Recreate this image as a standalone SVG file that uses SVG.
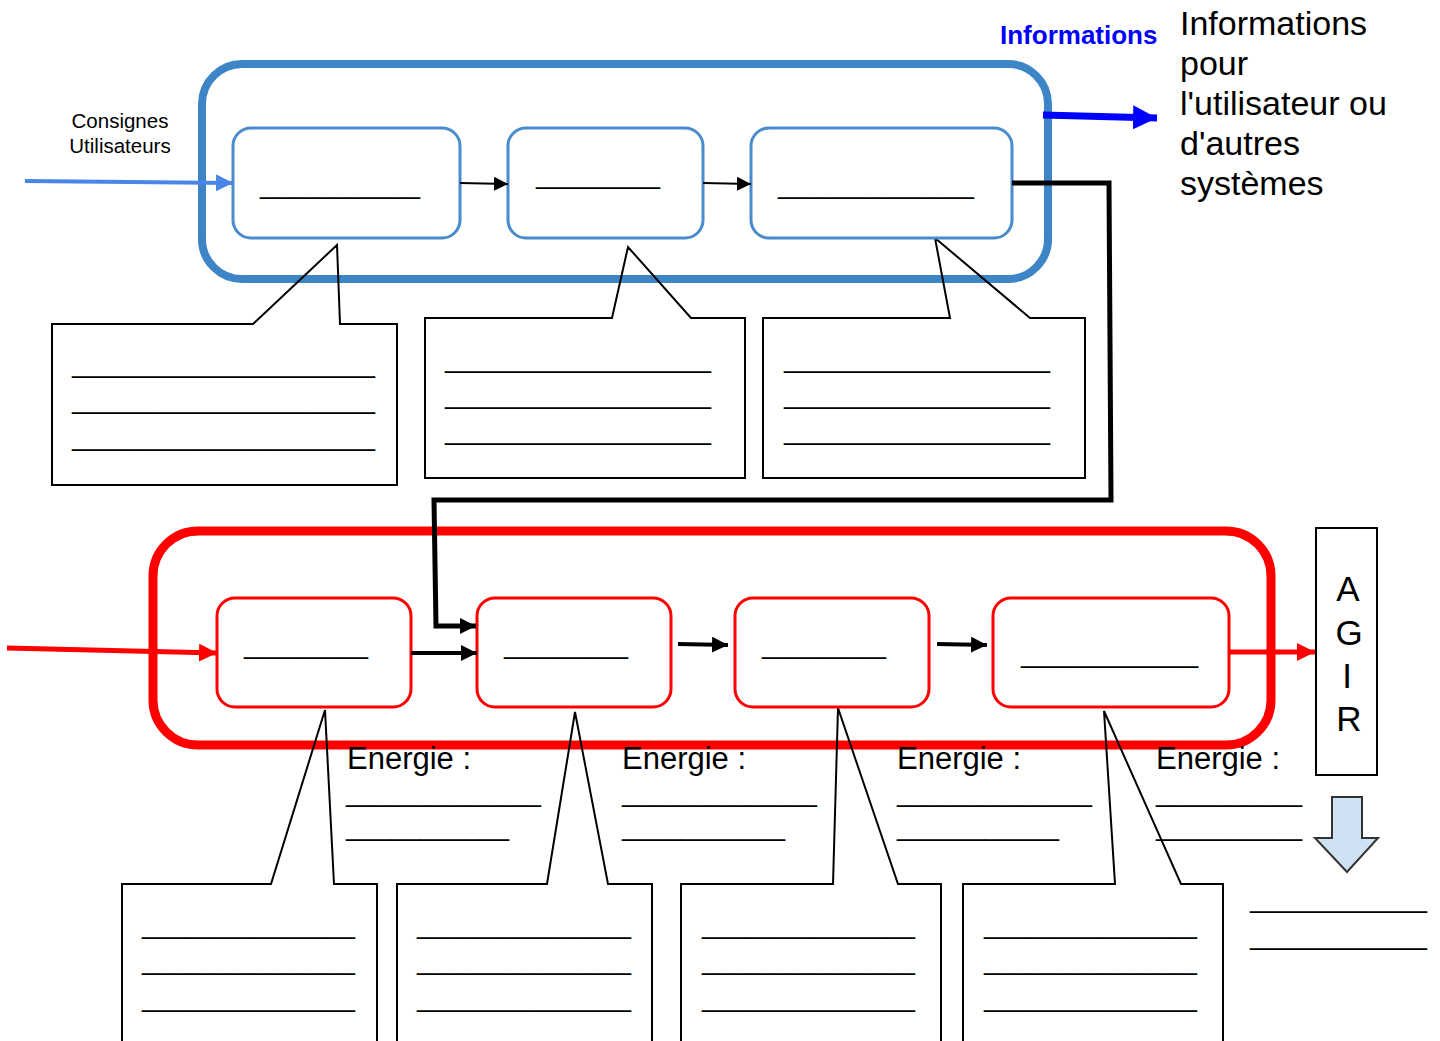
<svg xmlns="http://www.w3.org/2000/svg" width="1440" height="1041" viewBox="0 0 1440 1041">
  <defs>
    <style>
      .txt { font-family: "Liberation Sans", Arial, sans-serif; fill: #000; }
      .blank { font-family: "Liberation Sans", Arial, sans-serif; font-size: 25px; fill: #000; }
      .outer-blue { fill: none; stroke: #3d85c6; stroke-width: 8; }
      .inner-blue { fill: #fff; stroke: #4a8bcb; stroke-width: 3; }
      .outer-red { fill: none; stroke: #ff0000; stroke-width: 9; }
      .inner-red { fill: #fff; stroke: #ff0000; stroke-width: 3; }
      .callout { fill: none; stroke: #000; stroke-width: 2; stroke-linejoin: miter; }
      .energie { font-family: "Liberation Sans", Arial, sans-serif; font-size: 31px; fill: #000; }
    </style>
    <marker id="head-black-s" viewBox="0 0 10 10" refX="10" refY="5" markerUnits="userSpaceOnUse" markerWidth="14" markerHeight="15" orient="auto">
      <path d="M0,0 L10,5 L0,10 Z" fill="#000"/>
    </marker>
    <marker id="head-black-m" viewBox="0 0 10 10" refX="10" refY="5" markerUnits="userSpaceOnUse" markerWidth="16" markerHeight="16" orient="auto">
      <path d="M0,0 L10,5 L0,10 Z" fill="#000"/>
    </marker>
    <marker id="head-lblue" viewBox="0 0 10 10" refX="10" refY="5" markerUnits="userSpaceOnUse" markerWidth="17" markerHeight="18" orient="auto">
      <path d="M0,0 L10,5 L0,10 Z" fill="#4a86e8"/>
    </marker>
    <marker id="head-blue" viewBox="0 0 10 10" refX="10" refY="5" markerUnits="userSpaceOnUse" markerWidth="24" markerHeight="24" orient="auto">
      <path d="M0,0 L10,5 L0,10 Z" fill="#0000ff"/>
    </marker>
    <marker id="head-red" viewBox="0 0 10 10" refX="10" refY="5" markerUnits="userSpaceOnUse" markerWidth="18" markerHeight="18" orient="auto">
      <path d="M0,0 L10,5 L0,10 Z" fill="#ff0000"/>
    </marker>
  </defs>

  <rect width="1440" height="1041" fill="#fff"/>

  <!-- information chain (top) -->
  <g id="chaine-information">
    <rect class="outer-blue" x="202" y="64" width="846" height="215" rx="40"/>
  </g>

  <!-- energy chain (bottom) -->
  <g id="chaine-energie">
    <rect class="outer-red" x="153" y="531" width="1118" height="214" rx="45"/>
  </g>

  <!-- top callouts -->
  <g id="bulle-1">
    <path class="callout" d="M52,324 L253,324 L337,245 L340,324 L397,324 L397,485 L52,485 Z"/>
    <text class="blank" x="72" y="373" textLength="303" lengthAdjust="spacingAndGlyphs">______________________</text>
    <text class="blank" x="72" y="409" textLength="303" lengthAdjust="spacingAndGlyphs">______________________</text>
    <text class="blank" x="72" y="446" textLength="303" lengthAdjust="spacingAndGlyphs">______________________</text>
  </g>
  <g id="bulle-2">
    <path class="callout" d="M425,318 L612,318 L628,247 L691,318 L745,318 L745,478 L425,478 Z"/>
    <text class="blank" x="445" y="368" textLength="266" lengthAdjust="spacingAndGlyphs">___________________</text>
    <text class="blank" x="445" y="404" textLength="266" lengthAdjust="spacingAndGlyphs">___________________</text>
    <text class="blank" x="445" y="440" textLength="266" lengthAdjust="spacingAndGlyphs">___________________</text>
  </g>
  <g id="bulle-3">
    <path class="callout" d="M763,318 L950,318 L935,238 L1030,318 L1085,318 L1085,478 L763,478 Z"/>
    <text class="blank" x="784" y="368" textLength="266" lengthAdjust="spacingAndGlyphs">___________________</text>
    <text class="blank" x="784" y="404" textLength="266" lengthAdjust="spacingAndGlyphs">___________________</text>
    <text class="blank" x="784" y="440" textLength="266" lengthAdjust="spacingAndGlyphs">___________________</text>
  </g>

  <!-- top function blocks -->
  <g id="bloc-acquerir">
    <rect class="inner-blue" x="233" y="128" width="227" height="110" rx="18"/>
    <text class="blank" x="260" y="194" textLength="160" lengthAdjust="spacingAndGlyphs">___________</text>
  </g>
  <g id="bloc-traiter">
    <rect class="inner-blue" x="508" y="128" width="195" height="110" rx="18"/>
    <text class="blank" x="536" y="184" textLength="124" lengthAdjust="spacingAndGlyphs">_________</text>
  </g>
  <g id="bloc-communiquer">
    <rect class="inner-blue" x="751" y="128" width="261" height="110" rx="18"/>
    <text class="blank" x="778" y="194" textLength="196" lengthAdjust="spacingAndGlyphs">______________</text>
  </g>

  <!-- bottom callouts -->
  <g id="bulle-a">
    <path class="callout" d="M122,1060 L122,884 L271,884 L325,710 L334,884 L377,884 L377,1060"/>
    <text class="blank" x="142" y="934" textLength="213" lengthAdjust="spacingAndGlyphs">_______________</text>
    <text class="blank" x="142" y="970" textLength="213" lengthAdjust="spacingAndGlyphs">_______________</text>
    <text class="blank" x="142" y="1007" textLength="213" lengthAdjust="spacingAndGlyphs">_______________</text>
  </g>
  <g id="bulle-b">
    <path class="callout" d="M397,1060 L397,884 L547,884 L575,712 L608,884 L652,884 L652,1060"/>
    <text class="blank" x="417" y="934" textLength="214" lengthAdjust="spacingAndGlyphs">_______________</text>
    <text class="blank" x="417" y="970" textLength="214" lengthAdjust="spacingAndGlyphs">_______________</text>
    <text class="blank" x="417" y="1007" textLength="214" lengthAdjust="spacingAndGlyphs">_______________</text>
  </g>
  <g id="bulle-c">
    <path class="callout" d="M681,1060 L681,884 L833,884 L838,708 L898,884 L941,884 L941,1060"/>
    <text class="blank" x="702" y="934" textLength="213" lengthAdjust="spacingAndGlyphs">_______________</text>
    <text class="blank" x="702" y="970" textLength="213" lengthAdjust="spacingAndGlyphs">_______________</text>
    <text class="blank" x="702" y="1007" textLength="213" lengthAdjust="spacingAndGlyphs">_______________</text>
  </g>
  <g id="bulle-d">
    <path class="callout" d="M963,1060 L963,884 L1115,884 L1104,711 L1181,884 L1223,884 L1223,1060"/>
    <text class="blank" x="984" y="934" textLength="213" lengthAdjust="spacingAndGlyphs">_______________</text>
    <text class="blank" x="984" y="970" textLength="213" lengthAdjust="spacingAndGlyphs">_______________</text>
    <text class="blank" x="984" y="1007" textLength="213" lengthAdjust="spacingAndGlyphs">_______________</text>
  </g>

  <!-- bottom function blocks -->
  <g id="bloc-alimenter">
    <rect class="inner-red" x="217" y="598" width="194" height="109" rx="18"/>
    <text class="blank" x="244" y="654" textLength="124" lengthAdjust="spacingAndGlyphs">_________</text>
  </g>
  <g id="bloc-distribuer">
    <rect class="inner-red" x="477" y="598" width="194" height="109" rx="18"/>
    <text class="blank" x="504" y="654" textLength="124" lengthAdjust="spacingAndGlyphs">_________</text>
  </g>
  <g id="bloc-convertir">
    <rect class="inner-red" x="735" y="598" width="194" height="109" rx="18"/>
    <text class="blank" x="762" y="654" textLength="124" lengthAdjust="spacingAndGlyphs">_________</text>
  </g>
  <g id="bloc-transmettre">
    <rect class="inner-red" x="993" y="598" width="236" height="109" rx="18"/>
    <text class="blank" x="1021" y="663" textLength="177" lengthAdjust="spacingAndGlyphs">_____________</text>
  </g>

  <!-- energy labels -->
  <g id="energie-1">
    <text class="energie" x="347" y="769">Energie :</text>
    <text class="blank" x="346" y="802" textLength="195" lengthAdjust="spacingAndGlyphs">______________</text>
    <text class="blank" x="346" y="836" textLength="163" lengthAdjust="spacingAndGlyphs">___________</text>
  </g>
  <g id="energie-2">
    <text class="energie" x="622" y="769">Energie :</text>
    <text class="blank" x="622" y="802" textLength="195" lengthAdjust="spacingAndGlyphs">______________</text>
    <text class="blank" x="622" y="836" textLength="163" lengthAdjust="spacingAndGlyphs">___________</text>
  </g>
  <g id="energie-3">
    <text class="energie" x="897" y="769">Energie :</text>
    <text class="blank" x="897" y="802" textLength="195" lengthAdjust="spacingAndGlyphs">______________</text>
    <text class="blank" x="897" y="836" textLength="162" lengthAdjust="spacingAndGlyphs">___________</text>
  </g>
  <g id="energie-4">
    <text class="energie" x="1156" y="769">Energie :</text>
    <text class="blank" x="1156" y="802" textLength="146" lengthAdjust="spacingAndGlyphs">__________</text>
    <text class="blank" x="1156" y="836" textLength="146" lengthAdjust="spacingAndGlyphs">__________</text>
  </g>

  <!-- action output -->
  <g id="agir">
    <rect x="1316" y="528" width="61" height="247" fill="#fff" stroke="#000" stroke-width="2"/>
    <text class="txt" x="1348" y="601" font-size="35" text-anchor="middle">A</text>
    <text class="txt" x="1349" y="645" font-size="35" text-anchor="middle">G</text>
    <text class="txt" x="1347" y="688" font-size="35" text-anchor="middle">I</text>
    <text class="txt" x="1349" y="731" font-size="35" text-anchor="middle">R</text>
  </g>
  <g id="fleche-effet">
    <path d="M1332,797 L1362,797 L1362,838 L1378,838 L1347,872 L1315,838 L1332,838 Z" fill="#cfe2f3" stroke="#333" stroke-width="2" stroke-linejoin="miter"/>
  </g>
  <g id="effet">
    <text class="blank" x="1250" y="908" textLength="177" lengthAdjust="spacingAndGlyphs">____________</text>
    <text class="blank" x="1250" y="945" textLength="177" lengthAdjust="spacingAndGlyphs">____________</text>
  </g>

  <!-- inputs / outputs labels -->
  <g id="consignes">
    <text class="txt" x="120" y="128" font-size="20.5" text-anchor="middle">Consignes</text>
    <text class="txt" x="120" y="153" font-size="20.5" text-anchor="middle">Utilisateurs</text>
  </g>
  <g id="informations">
    <text x="1000" y="44" font-family="Liberation Sans, Arial, sans-serif" font-weight="bold" font-size="26" fill="#0000ff">Informations</text>
  </g>
  <g id="informations-sortie">
    <text class="txt" font-size="34">
      <tspan x="1180" y="35">Informations</tspan>
      <tspan x="1180" y="75">pour</tspan>
      <tspan x="1180" y="115">l'utilisateur ou</tspan>
      <tspan x="1180" y="155">d'autres</tspan>
      <tspan x="1180" y="195">systèmes</tspan>
    </text>
  </g>

  <!-- connectors -->
  <g id="connecteurs" fill="none">
    <line x1="25" y1="181" x2="233" y2="183" stroke="#4a86e8" stroke-width="4" marker-end="url(#head-lblue)"/>
    <line x1="460" y1="183" x2="508" y2="184" stroke="#000" stroke-width="2" marker-end="url(#head-black-s)"/>
    <line x1="703" y1="183" x2="751" y2="184" stroke="#000" stroke-width="2" marker-end="url(#head-black-s)"/>
    <line x1="1043" y1="115" x2="1157" y2="118" stroke="#0000ff" stroke-width="7" marker-end="url(#head-blue)"/>
    <path d="M1012,183 L1109,183 L1111,500 L434,500 L436,626 L476,626" stroke="#000" stroke-width="5" stroke-linejoin="miter" marker-end="url(#head-black-m)"/>
    <line x1="7" y1="648" x2="217" y2="653" stroke="#ff0000" stroke-width="5" marker-end="url(#head-red)"/>
    <line x1="411" y1="653" x2="477" y2="653" stroke="#000" stroke-width="4" marker-end="url(#head-black-m)"/>
    <line x1="678" y1="644" x2="728" y2="645" stroke="#000" stroke-width="4" marker-end="url(#head-black-m)"/>
    <line x1="937" y1="644" x2="987" y2="645" stroke="#000" stroke-width="4" marker-end="url(#head-black-m)"/>
    <line x1="1229" y1="652" x2="1315" y2="652" stroke="#ff0000" stroke-width="5" marker-end="url(#head-red)"/>
  </g>
</svg>
